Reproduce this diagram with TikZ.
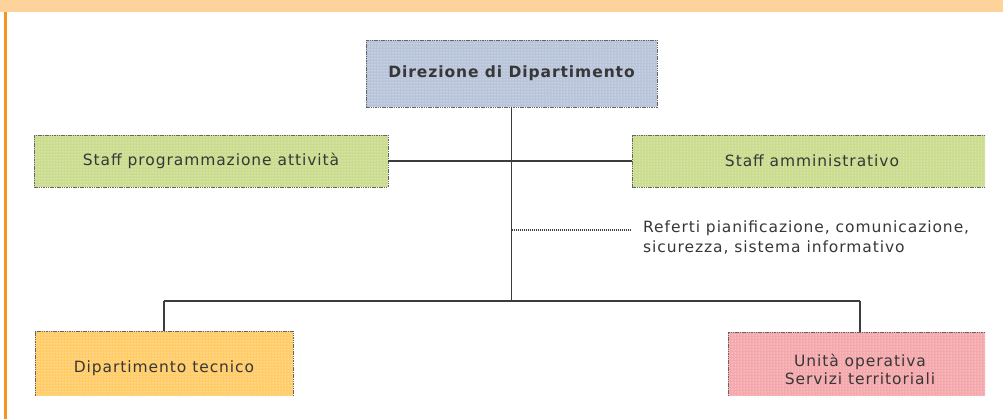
\documentclass[tikz,border=0pt]{standalone}
\usepackage{fontspec}
\setmainfont[LetterSpace=6]{DejaVu Sans}
\usetikzlibrary{patterns}

\definecolor{bandorange}{RGB}{253,210,155}
\definecolor{edgeorange}{RGB}{247,148,29}
\definecolor{dirblue}{RGB}{184,196,218}
\definecolor{staffgreen}{RGB}{203,220,142}
\definecolor{tecorange}{RGB}{255,204,104}
\definecolor{unitpink}{RGB}{245,168,172}
\definecolor{boxgray}{RGB}{100,100,100}
\definecolor{linkgray}{RGB}{60,60,60}
\definecolor{textgray}{RGB}{55,55,55}

\begin{document}
\begin{tikzpicture}[x=1pt,y=-1pt,
  box/.style={draw=boxgray, line width=.9pt, dash pattern=on 1.5pt off .8pt, preaction={fill=#1}, pattern=dots, pattern color=white, text=textgray, inner sep=0pt},
  link/.style={draw=linkgray, line width=1.3pt, dash pattern=on 1.5pt off .5pt},
  font=\fontsize{15.5}{18}\selectfont]
\useasboundingbox (0,0) rectangle (1003,419);
\fill[bandorange] (0,0) rectangle (1003,12);
\draw[edgeorange, line width=3pt] (5,12) -- (5,419);
\begin{scope}
\clip (0,12) rectangle (985,395.5);
\node (dir) [box=dirblue, minimum width=291pt, minimum height=67pt, font=\fontsize{15.5}{18}\selectfont\bfseries] at (511.5,73.5) {Direzione di Dipartimento};
\node (spa) [box=staffgreen, minimum width=354pt, minimum height=52pt] at (211,161) {Staff programmazione attività};
\node (sam) [box=staffgreen, minimum width=360pt, minimum height=52pt] at (812,161) {Staff amministrativo};
\node (dtec) [box=tecorange, minimum width=258pt, minimum height=74pt] at (164,368) {Dipartimento tecnico};
\node (uo) [box=unitpink, minimum width=264pt, minimum height=74pt, align=center] at (860,369) {Unità operativa\\Servizi territoriali};
\coordinate (refpt) at (630,230);
\coordinate (bus) at (512,301);
\node (ref) [anchor=west, align=left, text=textgray, inner sep=0pt, font=\fontsize{15.5}{20}\selectfont] at (643,238) {Referti pianificazione, comunicazione,\\sicurezza, sistema informativo};
\draw[link] (spa.east) -- (sam.west);
\draw[link] (dir.south) -- (dir.south |- bus);
\draw[link] (dir.south |- refpt) -- (refpt);
\draw[link] (dtec.north) |- (bus) -| (uo.north);
\end{scope}
\end{tikzpicture}
\end{document}
